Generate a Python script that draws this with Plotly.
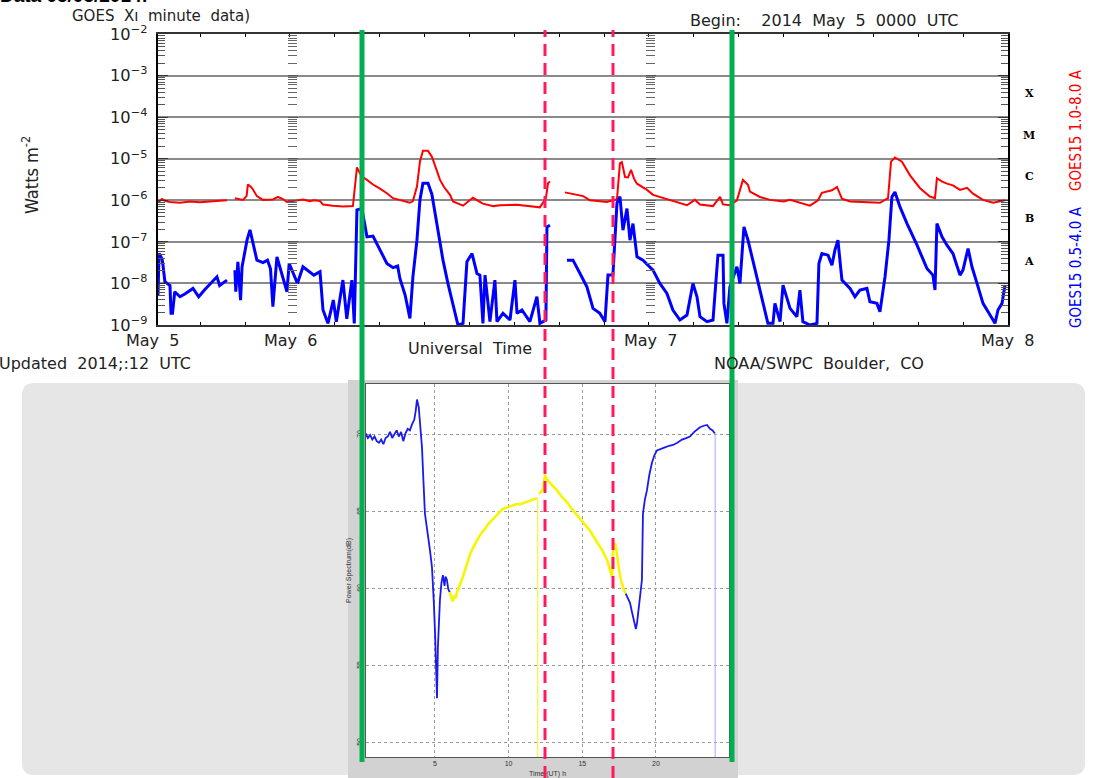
import plotly.graph_objects as go

W, H = 1099, 778

# GOES-15 X-ray flux, hours since 2014 May 5 00:00 UT, log10(W m^-2); None = data gap
red_hours = [15.2, 15.44, 15.64, 15.98, 16.65, 17.3, 17.98, 18.65, 19.3, 19.79, None,
             20.32, 20.86, 21.1, 21.19, 21.4, 21.53, 21.79, 22.19, 22.86, 23.2, 23.53, 23.8,
             24.2, 24.87, 25.34, 25.6, 26.01, 26.21, 26.87, 27.54, 28.21, 28.35, 28.48, 28.68,
             28.81, 29.15, 29.55, 30.02, 30.48, 30.89, 31.35, 32.02, 32.22, 32.49, 32.69, 32.89,
             33.23, 33.49, 33.83, 34.03, 34.3, 34.7, 34.9, 35.57, 36.23, 36.9, 37.6, 38.04,
             39.18, 39.84, 40.71, 41.11, 41.25, 41.38, None,
             42.38, 43.0, 43.6, 44.06, 45.19, 45.59, 45.86, 46.06, 46.19, 46.4, 46.6, 46.8,
             47.0, 47.2, 47.87, 48.27, 49.6, 50.54, 51.07, 51.41, 52.28, 52.75, 52.95, 53.41,
             53.88, 54.28, 54.62, 54.75, 55.42, 56.09, 57.0, 57.43, 58.76, 59.3, 59.56, 60.23,
             60.57, 60.9, 61.44, 62.1, 63.44, 63.98, 64.18, 64.44, 64.91, 65.45, 66.12, 66.78,
             67.12, 67.25, 67.6, 67.92, 68.32, 68.79, 69.26, 69.66, 70.33, 71.0, 71.8]
red_log = [-6.05, -5.97, -6.01, -6.04, -6.06, -6.03, -6.05, -6.03, -6.02, -6.0, None,
           -5.95, -5.99, -5.9, -5.62, -5.68, -5.74, -5.9, -5.99, -5.98, -5.92, -5.97, -6.04,
           -6.02, -5.98, -6.02, -6.0, -6.02, -6.1, -6.13, -6.15, -6.14, -5.71, -5.21, -5.35,
           -5.43, -5.51, -5.62, -5.72, -5.83, -5.95, -6.0, -6.06, -6.02, -5.67, -5.07, -4.81,
           -4.81, -4.95, -5.3, -5.51, -5.68, -5.87, -6.03, -6.13, -5.94, -6.08, -6.14, -6.12,
           -6.11, -6.14, -6.17, -5.95, -5.59, -5.55, None,
           -5.81, -5.85, -5.9, -6.0, -6.04, -6.0, -5.98, -5.11, -5.08, -5.44, -5.45, -5.27,
           -5.48, -5.6, -5.75, -5.87, -6.01, -6.12, -5.99, -6.1, -6.14, -5.92, -6.1, -6.12,
           -6.0, -5.51, -5.63, -5.79, -5.92, -5.99, -6.03, -5.99, -6.13, -6.0, -5.82, -5.76,
           -5.68, -5.96, -6.03, -6.04, -6.06, -5.95, -5.07, -4.97, -5.07, -5.4, -5.71, -5.91,
           -5.95, -5.47, -5.55, -5.6, -5.64, -5.75, -5.7, -5.84, -5.99, -6.06, -6.0]

blue_hours = [15.18, 15.25, 15.44, 15.5, 15.64, 15.98, 16.05, 16.15, 16.3, 16.65, 17.0, 17.52,
              17.9, 18.3, 19.12, 19.3, 19.79, None,
              20.32, 20.38, 20.52, 20.7, 20.8, 21.13, 21.33, 21.55, 21.79, 22.2, 22.5, 22.7,
              22.86, 23.13, 23.5, 23.8, 23.95, 24.2, 24.5, 24.87, 25.6, 26.01, 26.21, 26.54,
              26.9, 27.1, 27.54, 27.8, 28.14, 28.3, 28.48, 28.81, 29.15, 29.55, 29.9, 30.02,
              30.48, 30.89, 31.2, 31.35, 31.7, 32.02, 32.22, 32.49, 32.69, 32.89, 33.23, 33.49,
              33.83, 34.03, 34.23, 34.56, 35.03, 35.23, 35.57, 35.83, 36.17, 36.5, 36.7, 36.9,
              37.04, 37.37, 37.7, 37.84, 38.24, 38.71, 39.04, 39.18, 39.51, 39.84, 40.04, 40.51,
              40.71, 41.11, 41.18, 41.38, None,
              42.52, 42.92, 43.39, 43.85, 44.26, 44.72, 45.06, 45.26, 45.59, 45.86, 46.06, 46.26,
              46.53, 46.73, 46.93, 47.2, 47.6, 48.27, 48.73, 49.2, 49.6, 50.07, 50.54, 50.94,
              51.21, 51.41, 51.88, 52.28, 52.61, 52.95, 53.01, 53.21, 53.41, 53.88, 54.08, 54.35,
              54.62, 54.95, 55.29, 55.62, 55.95, 56.29, 56.42, 56.76, 56.96, 57.43, 57.89, 58.09,
              58.29, 58.76, 59.23, 59.36, 59.56, 59.97, 60.23, 60.43, 60.63, 60.9, 61.44, 61.77,
              62.1, 62.57, 62.77, 63.24, 63.44, 63.78, 64.04, 64.24, 64.44, 64.78, 65.25, 65.92,
              66.58, 66.98, 67.12, 67.25, 67.59, 67.92, 68.32, 68.79, 68.99, 69.33, 69.59, 69.93,
              70.33, 70.8, 71.13, 71.33, 71.6, 71.8]
blue_log = [-8.28, -7.28, -7.4, -7.52, -7.96, -8.05, -8.72, -8.72, -8.2, -8.32, -8.25, -8.12,
            -8.32, -8.15, -7.84, -8.05, -7.92, None,
            -7.68, -8.2, -7.48, -8.4, -7.6, -6.96, -6.71, -7.1, -7.44, -7.5, -7.44, -7.65,
            -8.56, -7.36, -7.8, -8.2, -7.52, -7.75, -8.0, -7.6, -7.8, -7.72, -8.64, -8.96,
            -8.4, -8.92, -7.92, -8.85, -7.92, -8.96, -6.23, -6.2, -6.88, -6.86, -7.1, -7.2,
            -7.52, -7.62, -7.58, -7.88, -8.28, -8.84, -7.84, -6.96, -5.99, -5.59, -5.59, -5.86,
            -6.64, -7.08, -7.44, -8.0, -8.72, -9.0, -8.96, -7.48, -7.28, -7.76, -7.8, -8.96,
            -7.8, -8.92, -7.92, -8.92, -8.72, -8.88, -7.92, -8.72, -8.64, -8.8, -8.92, -8.32,
            -8.96, -8.88, -6.64, -6.6, None,
            -7.44, -7.44, -7.76, -8.08, -8.6, -8.72, -8.92, -7.8, -7.8, -6.07, -5.91, -6.72,
            -6.2, -6.96, -6.56, -7.36, -7.44, -7.68, -8.0, -8.24, -8.64, -8.88, -8.76, -8.0,
            -8.32, -8.8, -8.92, -8.88, -7.32, -7.32, -8.48, -8.96, -8.08, -7.6, -8.0, -6.64,
            -6.96, -7.44, -8.0, -8.48, -8.96, -8.96, -8.48, -8.92, -8.04, -8.6, -8.8, -8.16,
            -8.92, -9.0, -8.96, -7.52, -7.28, -7.32, -7.56, -7.2, -6.96, -7.92, -8.12, -8.32,
            -8.16, -8.12, -8.44, -8.48, -8.68, -7.84, -6.96, -5.92, -5.8, -6.16, -6.56, -7.08,
            -7.64, -7.8, -8.16, -6.56, -6.88, -7.08, -7.28, -7.8, -7.68, -7.16, -7.6, -8.0,
            -8.48, -8.76, -8.96, -8.64, -8.48, -8.04]

flare_classes = ["X", "M", "C", "B", "A"]
flare_class_log = [-3.43, -4.45, -5.43, -6.45, -7.48]
day_labels = ["May 5", "May 6", "May 7", "May 8"]

# VLF receiver power spectrum, hours UT, dB
vlf_blue_a_hours = [0.3, 0.45, 0.6, 0.75, 0.9, 1.05, 1.2, 1.35, 1.5, 1.65, 1.8, 1.95, 2.1,
                    2.25, 2.4, 2.55, 2.7, 2.85, 3.0, 3.15, 3.3, 3.45, 3.6, 3.7, 3.78, 3.9, 4.0,
                    4.12, 4.22, 4.32, 4.42, 4.52, 4.65, 4.8, 4.86, 4.93, 5.0, 5.07, 5.14, 5.2,
                    5.27, 5.34, 5.44, 5.54, 5.65, 5.72, 5.81, 5.9, 6.0]
vlf_blue_a_db = [70.1, 69.8, 70.0, 69.7, 69.9, 69.6, 69.5, 69.7, 69.4, 69.8, 69.9, 70.2, 69.8,
                 70.1, 70.3, 69.9, 70.2, 69.6, 70.1, 70.4, 70.3, 70.7, 71.0, 71.6, 72.3, 71.8,
                 70.8, 69.2, 67.0, 64.9, 64.2, 63.6, 62.6, 61.4, 60.6, 59.0, 57.3, 55.0, 52.9,
                 56.2, 57.8, 59.3, 60.4, 60.9, 60.2, 60.8, 60.6, 60.0, 59.8]
vlf_yellow_a_hours = [6.0, 6.1, 6.2, 6.3, 6.4, 6.5, 6.6, 6.75, 6.9, 7.05, 7.2, 7.4, 7.6, 7.8,
                      8.0, 8.2, 8.4, 8.6, 8.8, 9.0, 9.2, 9.4, 9.6, 9.9, 10.2, 10.5, 10.8, 11.1,
                      11.4, 11.7, 11.92]
vlf_yellow_a_db = [59.8, 59.4, 59.2, 59.5, 59.4, 59.8, 60.0, 60.4, 60.8, 61.3, 61.7, 62.3, 62.7,
                   63.1, 63.4, 63.7, 63.9, 64.2, 64.4, 64.6, 64.8, 65.0, 65.2, 65.3, 65.4, 65.5,
                   65.5, 65.6, 65.7, 65.8, 65.9]
vlf_yellow_b_hours = [12.05, 12.2, 12.35, 12.47, 12.6, 12.8, 13.0, 13.28, 13.6, 14.0, 14.37,
                      14.8, 15.2, 15.52, 15.9, 16.3, 16.68, 16.85, 17.02, 17.1, 17.22, 17.35,
                      17.5, 17.65, 17.8, 17.95]
vlf_yellow_b_db = [66.2, 66.3, 66.5, 67.4, 67.1, 66.9, 66.7, 66.4, 66.0, 65.6, 65.1, 64.6, 64.1,
                   63.8, 63.2, 62.6, 61.9, 61.3, 60.8, 62.6, 63.0, 62.3, 61.2, 60.5, 60.0, 59.7]
vlf_blue_b_hours = [17.95, 18.1, 18.24, 18.35, 18.44, 18.55, 18.64, 18.72, 18.8, 18.9, 19.05,
                    19.12, 19.25, 19.39, 19.55, 19.73, 19.9, 20.07, 20.3, 20.61, 20.9, 21.16,
                    21.45, 21.77, 22.05, 22.31, 22.6, 22.99, 23.25, 23.47, 23.67, 23.85, 24.0]
vlf_blue_b_db = [59.7, 59.4, 59.1, 58.6, 58.2, 57.8, 57.4, 57.8, 58.6, 59.5, 60.6, 64.9, 65.8,
                 66.4, 67.4, 68.2, 68.7, 69.0, 69.1, 69.2, 69.3, 69.35, 69.5, 69.7, 69.8, 69.9,
                 70.2, 70.5, 70.6, 70.65, 70.4, 70.3, 70.1]
# receiver dropouts
vlf_yellow_drop_hours = [11.98, 11.98]
vlf_yellow_drop_db = [65.9, 45.0]
vlf_blue_drop_hours = [24.02, 24.02]
vlf_blue_drop_db = [70.1, 45.0]

vlf_hour_ticks = [5, 10, 15, 20]
vlf_db_ticks = [50, 55, 60, 65, 70]


def px(x):
    return x / W


def py(y):
    return 1 - y / H


def to_flux(vals):
    return [None if v is None else 10 ** v for v in vals]


goes_font = dict(family="DejaVu Sans", size=16, color="#222")
narrow = "Liberation Sans Narrow, DejaVu Sans Condensed, Arial Narrow, Liberation Sans"

fig = go.Figure()

fig.add_trace(go.Scatter(x=red_hours, y=to_flux(red_log), mode="lines",
                         line=dict(color="#ff0000", width=2), xaxis="x", yaxis="y"))
fig.add_trace(go.Scatter(x=blue_hours, y=to_flux(blue_log), mode="lines",
                         line=dict(color="#0000ff", width=3), xaxis="x", yaxis="y"))
# empty traces so the day-boundary tick columns get drawn
fig.add_trace(go.Scatter(x=[None], y=[None], xaxis="x", yaxis="y3"))
fig.add_trace(go.Scatter(x=[None], y=[None], xaxis="x", yaxis="y4"))

for t, d, c, w in [(vlf_blue_a_hours, vlf_blue_a_db, "#1a1aee", 1.8),
                   (vlf_yellow_a_hours, vlf_yellow_a_db, "#f6f600", 2.6),
                   (vlf_yellow_drop_hours, vlf_yellow_drop_db, "#f6f600", 1),
                   (vlf_yellow_b_hours, vlf_yellow_b_db, "#f6f600", 2.6),
                   (vlf_blue_b_hours, vlf_blue_b_db, "#1a1aee", 1.8),
                   (vlf_blue_drop_hours, vlf_blue_drop_db, "#a8a8ff", 1)]:
    fig.add_trace(go.Scatter(x=t, y=d, mode="lines", line=dict(color=c, width=w),
                             xaxis="x2", yaxis="y2"))

# background panels, then the overlay lines
x0, y0, x1, y1, r = 22, 383, 1085, 775, 12
rounded = (f"M {px(x0 + r)} {py(y0)} L {px(x1 - r)} {py(y0)} Q {px(x1)} {py(y0)} {px(x1)} {py(y0 + r)} "
           f"L {px(x1)} {py(y1 - r)} Q {px(x1)} {py(y1)} {px(x1 - r)} {py(y1)} "
           f"L {px(x0 + r)} {py(y1)} Q {px(x0)} {py(y1)} {px(x0)} {py(y1 - r)} "
           f"L {px(x0)} {py(y0 + r)} Q {px(x0)} {py(y0)} {px(x0 + r)} {py(y0)} Z")
shapes = [
    dict(type="path", path=rounded, xref="paper", yref="paper", fillcolor="#e6e6e6",
         line=dict(width=0), layer="below"),
    dict(type="rect", xref="paper", yref="paper", x0=px(348), x1=px(738), y0=py(778), y1=py(380),
         fillcolor="#d2d2d2", line=dict(width=0), layer="below"),
    dict(type="rect", xref="paper", yref="paper", x0=px(366), x1=px(729), y0=py(757), y1=py(384),
         fillcolor="white", line=dict(width=0), layer="below"),
]
for gx in (362, 732):
    shapes.append(dict(type="line", xref="paper", yref="paper", x0=px(gx), x1=px(gx),
                       y0=py(762), y1=py(30), line=dict(color="#00b050", width=5)))
for rx in (545, 613):
    shapes.append(dict(type="line", xref="paper", yref="paper", x0=px(rx), x1=px(rx),
                       y0=py(778), y1=py(30), line=dict(color="#ff1a5e", width=3, dash="12px,7px")))

ann = [
    dict(text="<b>Data 05/05/2014:</b>", x=px(-2), y=py(-4), xanchor="left",
         font=dict(family="Liberation Sans", size=19, color="black")),
    dict(text="GOES  X\u0131  minute  data)", x=px(70), y=py(15.5), xanchor="left",
         font=dict(goes_font, size=15)),
    dict(text="Begin:\u00a0\u00a0\u00a0 2014\u00a0 May\u00a0 5\u00a0 0000\u00a0 UTC", x=px(688), y=py(21),
         xanchor="left", font=goes_font),
    dict(text="Watts m<sup>-2</sup>", x=px(30), y=py(175), textangle=-90,
         font=dict(family=narrow, size=18, color="#222")),
    dict(text="GOES15 1.0-8.0 A", x=px(1076), y=py(130), textangle=-90,
         font=dict(family=narrow, size=15, color="#ff0000")),
    dict(text="GOES15 0.5-4.0 A", x=px(1076), y=py(267), textangle=-90,
         font=dict(family=narrow, size=15, color="#0000ff")),
    dict(text="Universal\u00a0 Time", x=px(470), y=py(348), font=goes_font),
    dict(text="Updated\u00a0 2014;:12\u00a0 UTC", x=px(-3), y=py(363), xanchor="left", font=goes_font),
    dict(text="NOAA/SWPC\u00a0 Boulder,\u00a0 CO", x=px(712), y=py(363), xanchor="left", font=goes_font),
]
for label, cx in zip(day_labels, [152, 291, 650, 1007]):
    ann.append(dict(text=label.replace(" ", "\u00a0 "), x=px(cx), y=py(340), font=goes_font))
for cls, lv in zip(flare_classes, flare_class_log):
    ann.append(dict(text="<b>" + cls + "</b>", x=px(1029), y=lv, xref="paper", yref="y",
                    font=dict(family="DejaVu Serif", size=11, color="black")))
for a in ann:
    a.setdefault("xref", "paper")
    a.setdefault("yref", "paper")
    a.setdefault("xanchor", "center")
    a.setdefault("yanchor", "middle")
    a["showarrow"] = False

day_ticks = dict(type="log", range=[-9, -2], dtick=1, overlaying="y", anchor="free", side="left",
                 showgrid=False, showline=False, showticklabels=False, zeroline=False,
                 ticks="inside", ticklen=10, tickcolor="#555", automargin=False,
                 minor=dict(ticks="inside", ticklen=9, tickcolor="#666", showgrid=False))

small = dict(family="Liberation Sans", size=7, color="#333")

fig.update_layout(
    width=W, height=H, margin=dict(l=0, r=0, t=0, b=0, autoexpand=False),
    paper_bgcolor="white", plot_bgcolor="rgba(0,0,0,0)", showlegend=False,
    xaxis=dict(domain=[px(158), px(1008)], range=[15.18, 72], tick0=0, dtick=3,
               ticks="inside", ticklen=3, tickcolor="black", showticklabels=False,
               showgrid=False, zeroline=False, showline=True, linecolor="#333", linewidth=2,
               mirror="ticks", anchor="y", automargin=False),
    yaxis=dict(domain=[py(325), py(34)], type="log", range=[-9, -2], dtick=1,
               exponentformat="power", ticks="inside", ticklen=10, tickcolor="#333",
               minor=dict(ticks="inside", ticklen=7, tickcolor="#555", showgrid=False),
               showgrid=True, gridcolor="#8a8a8a", gridwidth=1.5, zeroline=False,
               showline=True, linecolor="black", linewidth=2, mirror="ticks",
               tickfont=dict(family="DejaVu Sans", size=13, color="#222"),
               ticklabelstandoff=6, anchor="x", automargin=False),
    yaxis3=dict(day_ticks, position=px(287)),
    yaxis4=dict(day_ticks, position=px(645)),
    xaxis2=dict(domain=[px(366), px(729)], range=[0.32, 24.96], tickvals=vlf_hour_ticks,
                ticks="", showgrid=True, gridcolor="#9a9a9a", griddash="dot", gridwidth=1,
                zeroline=False, showline=True, linecolor="#555", linewidth=1, mirror=True,
                tickfont=small, title=dict(text="Time (UT) h", font=small, standoff=6),
                anchor="y2", automargin=False),
    yaxis2=dict(domain=[py(757), py(384)], range=[49.09, 73.31], tickvals=vlf_db_ticks,
                ticks="", showgrid=True, gridcolor="#9a9a9a", griddash="dot", gridwidth=1,
                zeroline=False, showline=True, linecolor="#555", linewidth=1, mirror=True,
                tickangle=-90, tickfont=small,
                title=dict(text="Power Spectrum(dB)", font=small, standoff=3),
                anchor="x2", automargin=False),
    shapes=shapes,
    annotations=ann,
)

fig.write_html("out.html", config={"displayModeBar": False},
               post_script="document.body.style.margin='0px';")
